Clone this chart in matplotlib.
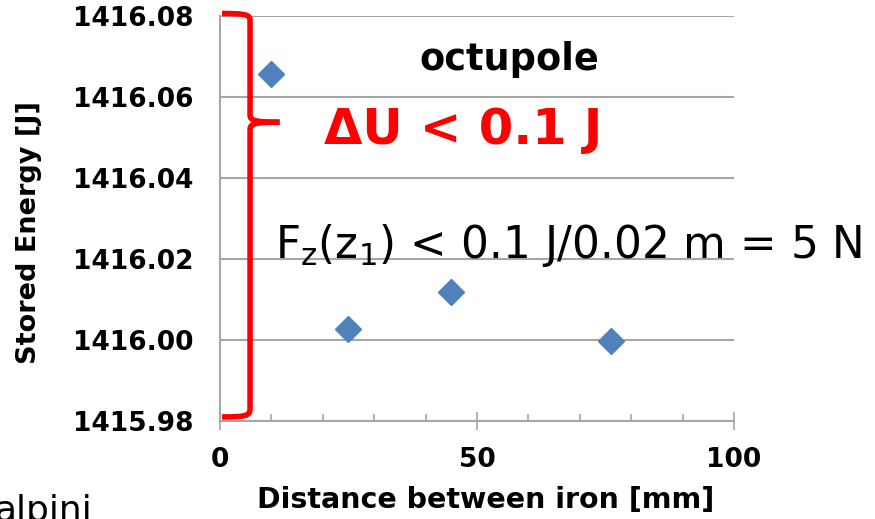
import numpy as np
import matplotlib
matplotlib.use("Agg")
import matplotlib.pyplot as plt
from matplotlib.path import Path
from matplotlib.patches import PathPatch
from matplotlib.ticker import MultipleLocator

# stored energy vs. iron separation (octupole)
distance_mm = [10, 25, 45, 76]
energy_J = [1416.0655, 1416.0028, 1416.0118, 1415.9998]

y_ticks = [1415.98, 1416.00, 1416.02, 1416.04, 1416.06, 1416.08]
x_ticks = [0, 50, 100]

blue = "#4F81BD"
red = "#FF0000"
grey = "#A6A6A6"

plt.rcParams['font.family'] = ['DejaVu Sans']

fig = plt.figure(figsize=(8.75, 5.19), dpi=100)
ax = fig.add_axes([0.2514, 0.1888, 0.5875, 0.7813])

ax.plot(distance_mm, energy_J, linestyle="none", marker="D", markersize=13.5,
        color=blue, zorder=3, clip_on=False)

ax.set_xlim(0, 100)
ax.set_ylim(1415.98, 1416.08)
ax.set_yticks(y_ticks)
ax.set_yticklabels(["%.2f" % v for v in y_ticks])
ax.set_xticks(x_ticks)
ax.xaxis.set_minor_locator(MultipleLocator(10))

for s in ["top", "right"]:
    ax.spines[s].set_visible(False)
for s in ["left", "bottom"]:
    ax.spines[s].set_color(grey)
    ax.spines[s].set_linewidth(1.5)

ax.yaxis.grid(True, color=grey, linewidth=1.5)
ax.set_axisbelow(True)

ax.tick_params(axis="y", length=0, pad=19, labelsize=19)
ax.tick_params(axis="x", which="major", direction="inout", length=13,
               width=1.2, color=grey, pad=12, labelsize=19)
ax.tick_params(axis="x", which="minor", direction="in", length=5,
               width=1.2, color=grey)
for lab in ax.get_xticklabels() + ax.get_yticklabels():
    lab.set_fontweight("bold")

ax.set_ylabel("Stored Energy [J]", fontsize=19.5, fontweight="bold")
ax.yaxis.label.set_va("center")
ax.yaxis.set_label_coords(-0.372, 0.466)
ax.set_xlabel("Distance between iron [mm]", fontsize=20.5, fontweight="bold")
ax.xaxis.label.set_va("center")
ax.xaxis.set_label_coords(0.516, -0.195)

# curly brace spanning the energy range
bx0, bx1, btip = 0.4, 5.85, 11.6
ytop, ymid, ybot = 1416.0805, 1416.0537, 1415.981
upper = Path(
    [(bx0, ytop), (5.0, ytop), (bx1, ytop - 0.0003), (bx1, ytop - 0.0017),
     (bx1, ymid + 0.0018),
     (bx1, ymid + 0.0003), (7.0, ymid), (btip, ymid)],
    [Path.MOVETO, Path.CURVE4, Path.CURVE4, Path.CURVE4,
     Path.LINETO,
     Path.CURVE4, Path.CURVE4, Path.CURVE4])
lower = Path(
    [(btip, ymid), (7.0, ymid), (bx1, ymid - 0.0003), (bx1, ymid - 0.0018),
     (bx1, ybot + 0.002),
     (bx1, ybot + 0.0003), (5.0, ybot), (bx0, ybot)],
    [Path.MOVETO, Path.CURVE4, Path.CURVE4, Path.CURVE4,
     Path.LINETO,
     Path.CURVE4, Path.CURVE4, Path.CURVE4])
for p in (upper, lower):
    ax.add_patch(PathPatch(p, facecolor="none", edgecolor=red, linewidth=4,
                           capstyle="butt", clip_on=False, zorder=4))

ax.text(56.2, 1416.0691, "octupole", fontsize=26.4, fontweight="bold",
        ha="center", va="center")
ax.text(47.4, 1416.0518, "\u0394U < 0.1 J", fontsize=35.7, fontweight="bold",
        color=red, ha="center", va="center")
ax.text(10.7, 1416.0234,
        r"F$_\mathregular{z}$(z$_\mathregular{1}$) < 0.1 J/0.02 m = 5 N",
        fontsize=31.5, ha="left", va="center")

fig.text(-0.006, -0.004, "alpini", fontsize=26, ha="left", va="baseline")

fig.savefig("out.png", dpi=100)
